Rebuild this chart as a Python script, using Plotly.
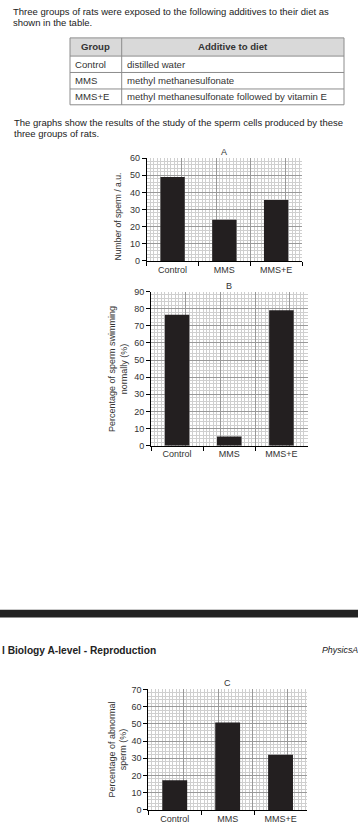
import plotly.graph_objects as go

W, H = 358, 833

# ---------------- data ----------------
categories = ["Control", "MMS", "MMS+E"]
sperm_number = [49, 24, 35.5]          # graph A, a.u.
swimming_normally = [76.5, 5.4, 79]    # graph B, %
abnormal_sperm = [17.2, 50.7, 32]      # graph C, %

table_header = ["Group", "Additive to diet"]
table_groups = ["Control", "MMS", "MMS+E"]
table_additives = ["distilled water", "methyl methanesulfonate",
                   "methyl methanesulfonate followed by vitamin E"]

FONT = "Liberation Sans"
TXT = "#333333"


def fx(px):
    return px / W


def fy(py):
    return 1 - py / H


# panel geometry in pixels (left, right, y of top tick, y of zero)
panels = [
    dict(values=sperm_number, ymax=60, left=146.7, right=302.0, top=155.0, zero=259.0,
         letter="A", title="Number of sperm / a.u.", tsize=8.6, tcy=213.5),
    dict(values=swimming_normally, ymax=90, left=151.0, right=307.5, top=290.0, zero=446.0,
         letter="B", title="Percentage of sperm swimming<br>normally (%)", tsize=9, tcy=368),
    dict(values=abnormal_sperm, ymax=70, left=148.3, right=307.0, top=692.7, zero=814.7,
         letter="C", title="Percentage of abnormal<br>sperm (%)", tsize=9, tcy=753),
]

fig = go.Figure()
layout = dict(
    width=W, height=H, margin=dict(l=0, r=0, t=0, b=0),
    paper_bgcolor="white", plot_bgcolor="rgba(0,0,0,0)",
    showlegend=False, bargap=0.53,
    font=dict(family=FONT, size=9, color=TXT),
)
annotations = []
shapes = []

for i, p in enumerate(panels, start=1):
    xa = "x" if i == 1 else f"x{i}"
    ya = "y" if i == 1 else f"y{i}"
    gx = f"x{i + 3}"
    fig.add_trace(go.Bar(x=categories, y=p["values"], xaxis=xa, yaxis=ya,
                         marker=dict(color="#231f20", line=dict(width=0)),
                         hoverinfo="x+y"))
    # dummy trace to create the overlaid grid axis
    fig.add_trace(go.Scatter(x=[None], y=[None], xaxis=gx, yaxis=ya,
                             hoverinfo="skip", showlegend=False))
    xdom = [fx(p["left"]), fx(p["right"])]
    ydom = [fy(p["zero"]), fy(p["top"])]
    px_per_unit = (p["zero"] - p["top"]) / p["ymax"]
    grid_range = (p["right"] - p["left"]) / px_per_unit
    kx = "xaxis" if i == 1 else f"xaxis{i}"
    ky = "yaxis" if i == 1 else f"yaxis{i}"
    layout[kx] = dict(
        domain=xdom, anchor=ya, type="category", range=[-0.5, 2.5],
        showgrid=False, zeroline=False, showline=True, linecolor="black", linewidth=1,
        ticks="outside", tickson="boundaries", ticklen=4, tickcolor="black", tickwidth=1,
        tickfont=dict(family=FONT, size=9, color=TXT), fixedrange=True,
    )
    layout[ky] = dict(
        domain=ydom, anchor=xa, range=[0, p["ymax"]], dtick=10,
        showgrid=True, gridcolor="#999999", gridwidth=0.8,
        minor=dict(dtick=2, showgrid=True, gridcolor="#cfcfcf", gridwidth=0.5, ticks=""),
        zeroline=False, showline=True, linecolor="black", linewidth=1,
        ticks="outside", ticklen=4, tickcolor="black", tickwidth=1,
        tickfont=dict(family=FONT, size=9, color=TXT), fixedrange=True,
    )
    layout[f"xaxis{i + 3}"] = dict(
        overlaying=xa, anchor=ya, range=[0, grid_range], dtick=20,
        showgrid=True, gridcolor="#999999", gridwidth=0.8,
        minor=dict(dtick=2, showgrid=True, gridcolor="#cfcfcf", gridwidth=0.5, ticks=""),
        showticklabels=False, ticks="", showline=False, zeroline=False, fixedrange=True,
    )
    annotations.append(dict(text=p["letter"], xref="paper", yref="paper",
                            x=fx((p["left"] + p["right"]) / 2), y=fy(p["top"] - 6),
                            xanchor="center", yanchor="middle", showarrow=False,
                            font=dict(family=FONT, size=9, color=TXT)))
    annotations.append(dict(text=p["title"], xref="paper", yref="paper",
                            x=fx(117.5), y=fy(p["tcy"]), textangle=-90,
                            xanchor="center", yanchor="middle", showarrow=False,
                            font=dict(family=FONT, size=p["tsize"], color=TXT)))

# ---------------- table (drawn with shapes + text) ----------------
T_LEFT, T_MID, T_RIGHT = 70, 121.7, 344
row_edges = [33.3, 51.7, 68.3, 85.0, 101.0]
LINE = dict(color="#8c8c8c", width=1)
shapes.append(dict(type="rect", xref="paper", yref="paper",
                   x0=fx(T_LEFT), x1=fx(T_RIGHT), y0=fy(row_edges[1]), y1=fy(row_edges[0]),
                   fillcolor="#d9d9d9", line=dict(width=0), layer="below"))
for yy in row_edges:
    shapes.append(dict(type="line", xref="paper", yref="paper",
                       x0=fx(T_LEFT), x1=fx(T_RIGHT), y0=fy(yy), y1=fy(yy), line=LINE))
for xx in (T_LEFT, T_MID, T_RIGHT):
    shapes.append(dict(type="line", xref="paper", yref="paper",
                       x0=fx(xx), x1=fx(xx), y0=fy(row_edges[-1]), y1=fy(row_edges[0]), line=LINE))


def cell_text(t, x, y, anchor="left", size=9.6):
    annotations.append(dict(text=t, xref="paper", yref="paper", x=fx(x), y=fy(y),
                            xanchor=anchor, yanchor="middle", showarrow=False,
                            font=dict(family=FONT, size=size, color=TXT)))


hy = (row_edges[0] + row_edges[1]) / 2
cell_text(f"<b>{table_header[0]}</b>", (T_LEFT + T_MID) / 2, hy, "center")
cell_text(f"<b>{table_header[1]}</b>", (T_MID + T_RIGHT) / 2, hy, "center")
for r, (g, a) in enumerate(zip(table_groups, table_additives)):
    cy = (row_edges[r + 1] + row_edges[r + 2]) / 2
    cell_text(g, T_LEFT + 2.5, cy)
    cell_text(a, T_MID + 3.5, cy)


# ---------------- page text ----------------
def text(t, x, y, size=9.5, anchor="left"):
    annotations.append(dict(text=t, xref="paper", yref="paper", x=fx(x), y=fy(y),
                            xanchor=anchor, yanchor="middle", showarrow=False,
                            font=dict(family=FONT, size=size, color="#222222")))


text("Three groups of rats were exposed to the following additives to their diet as", 11, 6.7)
text("shown in the table.", 11, 17.3)
text("The graphs show the results of the study of the sperm cells produced by these", 11.5, 119.3)
text("three groups of rats.", 11.5, 130)
text("<b>l Biology A-level - Reproduction</b>", 0, 653.3, size=10.2)
text("<i>PhysicsA</i>", 320, 653.3, size=8.8)

shapes.append(dict(type="rect", xref="paper", yref="paper",
                   x0=0, x1=1, y0=fy(620), y1=fy(612),
                   fillcolor="#222222", line=dict(width=0), layer="above"))

layout["annotations"] = annotations
layout["shapes"] = shapes
fig.update_layout(**layout)

fig.write_html("out.html", config={"displayModeBar": False},
               post_script="document.body.style.margin='0';document.body.style.padding='0';")
